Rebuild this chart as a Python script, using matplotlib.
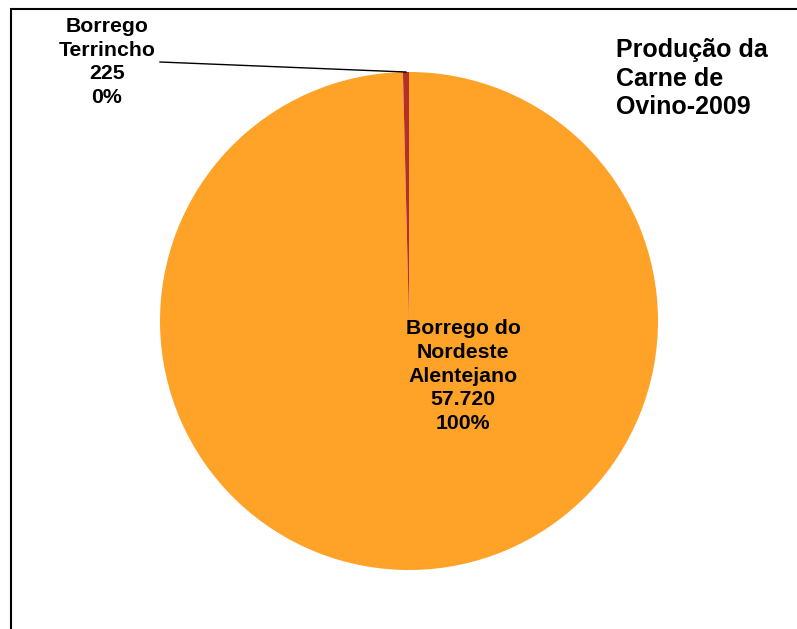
import matplotlib.pyplot as plt
from matplotlib.patches import Rectangle
import numpy as np

# Production of sheep meat 2009
categories = ["Borrego do\nNordeste\nAlentejano", "Borrego\nTerrincho"]
values = [57720, 225]
colors = ["#FEA228", "#B3302A"]

plt.rcParams['font.family'] = ['Liberation Sans', 'DejaVu Sans']

W, H = 797, 629
fig = plt.figure(figsize=(W / 100, H / 100), dpi=100)
ax = fig.add_axes([0, 0, 1, 1])

cx, cy, r = 409, H - 321, 249
wedges, _ = ax.pie(values, colors=colors, startangle=90, counterclock=False,
                   center=(cx, cy), radius=r, frame=True,
                   wedgeprops=dict(linewidth=0))

ax.set_xlim(0, W)
ax.set_ylim(0, H)
ax.set_aspect('equal')
ax.axis('off')

total = sum(values)


def fmt(v):
    return f"{v:,}".replace(",", ".")


# label of big slice (inside)
pct0 = round(values[0] / total * 100)
ax.text(463, H - 376, f"{categories[0]}\n{fmt(values[0])}\n{pct0}%",
        ha='center', va='center', fontsize=15.3, fontweight='bold',
        linespacing=1.32)

# label of small slice (outside with leader line)
pct1 = round(values[1] / total * 100)
ax.text(107, H - 62, f"{categories[1]}\n{fmt(values[1])}\n{pct1}%",
        ha='center', va='center', fontsize=15.3, fontweight='bold',
        linespacing=1.32)
w = wedges[1]
mid = np.deg2rad((w.theta1 + w.theta2) / 2)
ax.plot([160, cx + r * np.cos(mid)], [H - 62, cy + r * np.sin(mid)],
        color='black', linewidth=1)

# title
ax.text(616, H - 38, "Produção da\nCarne de\nOvino-2009", ha='left', va='top',
        fontsize=18, fontweight='bold', linespacing=1.25)

# chart border
ax.add_patch(Rectangle((11, -20), W + 20, H - 9 + 20, fill=False,
                       edgecolor='black', linewidth=1.5, clip_on=False))

plt.savefig("out.png", dpi=100)
